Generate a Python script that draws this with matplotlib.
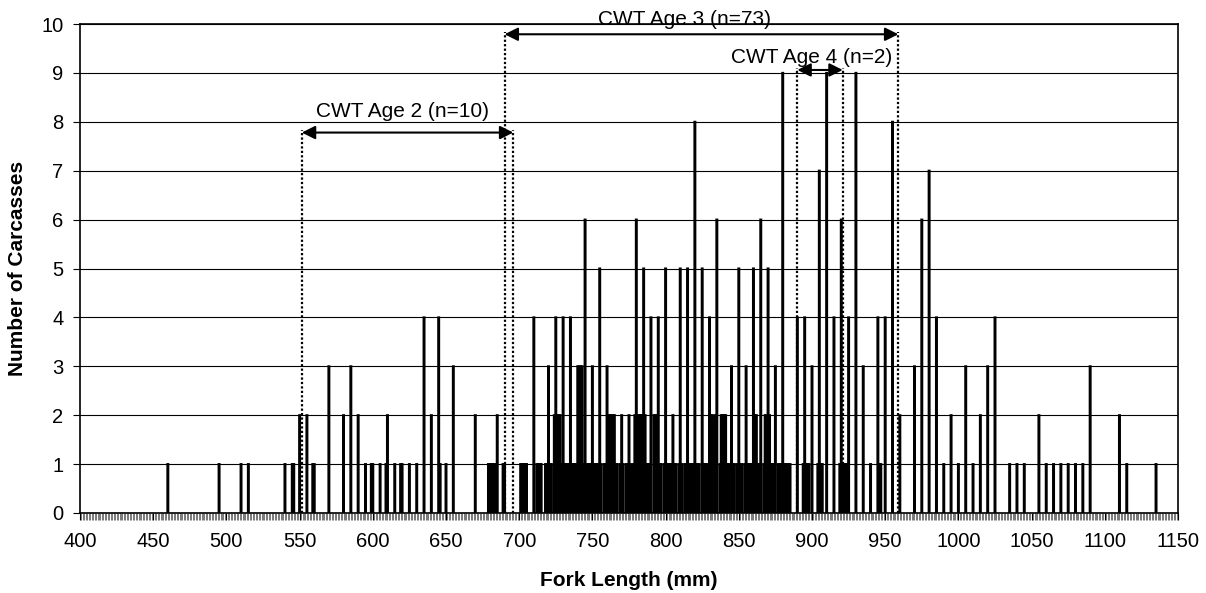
import matplotlib.pyplot as plt
from matplotlib.ticker import MultipleLocator

plt.rcParams['font.family'] = ['Liberation Sans', 'DejaVu Sans']

# fork length (mm) and number of carcasses at that length
fork_length = [
    460, 495, 510, 515, 540, 545, 546, 550, 555, 559, 560, 570, 580, 585, 590,
    595, 599, 600, 605, 609, 610, 615, 619, 620, 625, 630, 635, 640, 645, 646,
    650, 655, 670, 679, 680, 681, 682, 683, 684, 685, 689, 690,
    701, 702, 703, 704, 705, 710, 712, 713, 714, 715, 718, 719, 720, 721, 722,
    724, 725, 726, 727, 728, 729, 730, 731, 732, 733, 734, 735, 736, 737, 738,
    739, 740, 741, 742, 743, 744, 745, 746, 747, 748, 749, 750, 751, 752, 753,
    754, 755, 756, 758, 759, 760, 761, 762, 763, 764, 765, 766, 767, 769,
    770, 771, 773, 774, 775, 776, 778, 779, 780, 781, 782, 783, 784, 785, 786,
    787, 788, 789, 790, 792, 793, 794, 795, 796, 797, 799, 800, 801, 802, 803,
    804, 805, 806, 807, 809, 810, 811, 813, 814, 815, 817, 818, 819, 820, 821,
    822, 823, 825, 826, 827, 828, 830, 831, 832, 834, 835, 837, 838, 839, 840,
    841, 842, 843, 844, 845, 846, 847, 849, 850, 851, 852, 854, 855, 856, 857,
    858, 859, 860, 861, 862, 863, 864, 865, 867, 868, 869, 870, 871, 872, 873,
    874, 875, 877, 878, 879, 880, 881, 882, 883, 884, 885,
    890, 894, 895, 896, 897, 898, 900, 904, 905, 906, 907, 910, 915, 919, 920,
    921, 922, 923, 924, 925, 930, 935, 940, 945, 946, 947, 950, 955, 960,
    970, 975, 980, 985, 990, 995, 1000, 1005, 1010, 1015, 1020, 1025, 1035,
    1040, 1045, 1055, 1060, 1065, 1070, 1075, 1080, 1085, 1090, 1110, 1115, 1135,
]
carcasses = [
    1, 1, 1, 1, 1, 1, 1, 2, 2, 1, 1, 3, 2, 3, 2,
    1, 1, 1, 1, 1, 2, 1, 1, 1, 1, 1, 4, 2, 4, 1,
    1, 3, 2, 1, 1, 1, 1, 1, 1, 2, 1, 1,
    1, 1, 1, 1, 1, 4, 1, 1, 1, 1, 1, 1, 3, 1, 1,
    2, 4, 2, 2, 2, 1, 4, 1, 1, 1, 1, 4, 1, 1, 1,
    1, 3, 3, 3, 3, 1, 6, 1, 1, 1, 1, 3, 1, 1, 1,
    1, 5, 1, 1, 1, 3, 2, 2, 2, 2, 2, 1, 1, 1,
    2, 1, 1, 1, 2, 1, 1, 2, 6, 2, 2, 2, 2, 5, 2,
    1, 1, 1, 4, 2, 2, 2, 4, 1, 1, 1, 5, 1, 1, 1,
    1, 2, 1, 1, 1, 5, 1, 1, 1, 5, 1, 1, 1, 8, 1,
    1, 1, 5, 1, 1, 1, 4, 2, 2, 2, 6, 1, 2, 2, 2,
    2, 1, 1, 1, 3, 1, 1, 1, 5, 1, 1, 1, 3, 1, 1,
    1, 1, 5, 2, 2, 1, 1, 6, 1, 2, 2, 5, 2, 1, 1,
    1, 3, 1, 1, 1, 9, 1, 1, 1, 1, 1,
    4, 1, 4, 1, 1, 1, 3, 1, 7, 1, 1, 9, 4, 1, 6,
    1, 1, 1, 1, 4, 9, 3, 1, 4, 1, 1, 4, 8, 2,
    3, 6, 7, 4, 1, 2, 1, 3, 1, 2, 3, 4, 1,
    1, 1, 2, 1, 1, 1, 1, 1, 1, 3, 2, 1, 1,
]

# CWT age groups: label, length range, arrow height
age_labels = ["CWT Age 2 (n=10)", "CWT Age 3 (n=73)", "CWT Age 4 (n=2)"]
age_start = [551.5, 690, 890]
age_end = [696, 959, 921]
arrow_y = [7.78, 9.79, 9.06]
label_x = [620, 813, 900]
label_y = [8.1, 9.98, 9.2]

fig = plt.figure(figsize=(12.06, 5.93), dpi=100)
ax = fig.add_axes([80/1206, 80/593, 1098/1206, 489/593])

# thin bars with a black edge so each one keeps a visible width
ax.bar(fork_length, carcasses, width=0.6, color='black', edgecolor='black',
       linewidth=1.5, snap=False, zorder=3)

ax.set_xlim(400, 1150)
ax.set_ylim(0, 10)
ax.set_xticks(range(400, 1151, 50))
ax.xaxis.set_minor_locator(MultipleLocator(1))
ax.set_yticks(range(0, 11))
ax.yaxis.grid(True, color='black', lw=0.8, zorder=1)
ax.set_axisbelow(True)

ax.tick_params(axis='both', which='major', direction='out', length=5,
               width=0.8, labelsize=14.5, color='black')
ax.tick_params(axis='x', which='minor', direction='out', length=5,
               width=0.5, color='#444444')
ax.tick_params(axis='x', which='major', pad=9)
ax.tick_params(axis='y', which='major', pad=7)
for s in ax.spines.values():
    s.set_linewidth(1.2)

for i in range(3):
    ax.vlines([age_start[i], age_end[i]], 0, arrow_y[i] + 0.05, colors='black',
              linestyles=(0, (1, 1)), lw=1.6, zorder=4)
    ax.annotate('', xy=(age_end[i], arrow_y[i]), xytext=(age_start[i], arrow_y[i]),
                arrowprops=dict(arrowstyle='<|-|>', color='black', lw=1.5,
                                mutation_scale=20, shrinkA=0, shrinkB=0),
                zorder=5)
    ax.text(label_x[i], label_y[i], age_labels[i], fontsize=15,
            ha='center', va='baseline', zorder=5)

fig.text(629/1206, 1 - 580/593, "Fork Length (mm)", fontsize=15,
         fontweight='bold', ha='center', va='center')
fig.text(18/1206, 1 - 268/593, "Number of Carcasses", fontsize=15,
         fontweight='bold', ha='center', va='center', rotation=90)

plt.savefig("out.png", dpi=100)
